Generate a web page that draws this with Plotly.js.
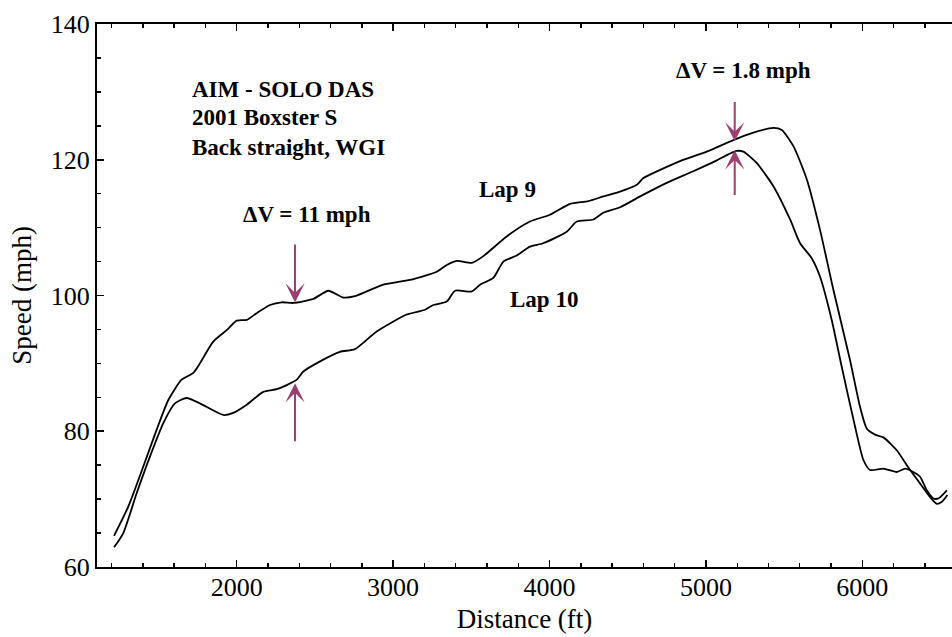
<!DOCTYPE html>
<html>
<head>
<meta charset="utf-8">
<script src="https://cdn.plot.ly/plotly-3.0.1.min.js"></script>
<style>html,body{margin:0;padding:0;background:#fff;}#chart{width:952px;height:637px;}</style>
</head>
<body>
<div id="chart"></div>
<script>
// Lap 9 (distance ft, speed mph)
const lap9Dist = [1216,1307,1403,1488,1563,1648,1723,1765,1850,1936,2000,2064,2128,2213,2288,2362,2490,2586,2682,2756,2937,3108,3279,3343,3407,3503,3577,3726,3875,4003,4131,4248,4344,4451,4558,4600,4707,4834,5005,5175,5303,5431,5485,5559,5645,5729,5815,5921,5985,6028,6081,6134,6220,6284,6369,6433,6476,6508,6544];
const lap9Speed = [64.6,68.9,74.8,80.2,84.6,87.6,88.6,90.0,93.2,94.9,96.3,96.4,97.4,98.6,99.0,98.9,99.5,100.7,99.7,99.9,101.6,102.3,103.5,104.5,105.1,104.8,105.8,108.7,110.9,111.9,113.5,113.9,114.6,115.3,116.3,117.3,118.5,119.8,121.2,122.9,124.0,124.7,124.4,122.0,117.1,109.7,100.8,90.5,83.6,80.4,79.5,79.1,77.2,75.0,72.3,70.3,69.3,69.6,70.6];
// Lap 10
const lap10Dist = [1216,1275,1361,1446,1531,1605,1680,1765,1914,1978,2064,2170,2256,2320,2384,2426,2533,2660,2756,2895,3087,3204,3257,3343,3396,3503,3556,3641,3705,3790,3875,3960,4110,4174,4280,4344,4451,4579,4749,4919,5069,5143,5197,5239,5325,5431,5538,5602,5676,5729,5804,5868,5953,6006,6049,6134,6220,6273,6326,6369,6412,6454,6486,6540];
const lap10Speed = [62.9,65.0,70.9,76.3,81.2,84.1,84.9,84.1,82.4,82.7,83.9,85.8,86.2,86.8,87.6,88.8,90.3,91.7,92.1,94.7,97.2,97.9,98.6,99.1,100.7,100.6,101.6,102.6,105.0,105.9,107.2,107.7,109.4,110.9,111.2,112.2,113.0,114.6,116.6,118.3,119.9,120.8,121.3,121.2,119.5,116.1,111.2,107.7,105.5,102.8,96.4,89.5,80.7,75.8,74.3,74.5,74.0,74.5,74.0,73.3,71.3,70.1,70.1,71.3];

const xTickVals = [2000,3000,4000,5000,6000];
const yTickVals = [60,80,100,120,140];
const infoLines = ["AIM - SOLO DAS","2001 Boxster S","Back straight, WGI"];

const serif = "'Liberation Serif', 'Times New Roman', serif";
const arrowColor = "#9b3f71";

const traces = [
  {x: lap9Dist, y: lap9Speed, mode: "lines", name: "Lap 9",
   line: {color: "#000", width: 1.8, shape: "spline", smoothing: 0.6}},
  {x: lap10Dist, y: lap10Speed, mode: "lines", name: "Lap 10",
   line: {color: "#000", width: 1.8, shape: "spline", smoothing: 0.6}}
];

const boldFont = {family: serif, size: 23, color: "#000"};
function arrow(xTip, yTip, yTail) {
  return {x: xTip, y: yTip, ax: xTip, ay: yTail, xref: "x", yref: "y", axref: "x", ayref: "y",
    text: "", showarrow: true, arrowhead: 3, arrowsize: 1.6, arrowwidth: 2, arrowcolor: arrowColor, standoff: 0};
}
const annotations = [
  {x: 1701, y: 130.3, xref: "x", yref: "y", text: "<b>" + infoLines[0] + "</b>", showarrow: false, xanchor: "left", yanchor: "middle", font: boldFont},
  {x: 1701, y: 126.2, xref: "x", yref: "y", text: "<b>" + infoLines[1] + "</b>", showarrow: false, xanchor: "left", yanchor: "middle", font: boldFont},
  {x: 1701, y: 121.8, xref: "x", yref: "y", text: "<b>" + infoLines[2] + "</b>", showarrow: false, xanchor: "left", yanchor: "middle", font: boldFont},
  {x: 2450, y: 112.0, xref: "x", yref: "y", text: "<b>ΔV = 11 mph</b>", showarrow: false, xanchor: "center", yanchor: "middle", font: boldFont},
  {x: 5240, y: 133.1, xref: "x", yref: "y", text: "<b>ΔV = 1.8 mph</b>", showarrow: false, xanchor: "center", yanchor: "middle", font: boldFont},
  {x: 3731, y: 115.6, xref: "x", yref: "y", text: "<b>Lap 9</b>", showarrow: false, xanchor: "center", yanchor: "middle", font: boldFont},
  {x: 3965, y: 99.4, xref: "x", yref: "y", text: "<b>Lap 10</b>", showarrow: false, xanchor: "center", yanchor: "middle", font: boldFont},
  arrow(2373, 98.97, 107.73),
  arrow(2373, 87.08, 78.32),
  arrow(5184, 122.71, 128.72),
  arrow(5184, 121.39, 114.6)
];

const layout = {
  width: 952, height: 637,
  margin: {l: 97, r: 0, t: 24, b: 70, pad: 0},
  paper_bgcolor: "#fff", plot_bgcolor: "#fff",
  showlegend: false,
  font: {family: serif, color: "#000", size: 26},
  xaxis: {
    range: [1107, 6573], showgrid: false, zeroline: false,
    showline: true, linecolor: "#000", linewidth: 2, mirror: "ticks",
    ticks: "inside", ticklen: 7, tickwidth: 1.6, tickcolor: "#000",
    tickvals: xTickVals, ticktext: xTickVals.map(String),
    tickfont: {family: serif, size: 26, color: "#000"},
    ticklabelstandoff: -4,
    minor: {dtick: 200, tick0: 0, ticks: "inside", ticklen: 4, tickwidth: 1.4, tickcolor: "#000", showgrid: false},
    title: {text: "Distance (ft)", font: {family: serif, size: 27, color: "#000"}, standoff: 8},
    automargin: false
  },
  yaxis: {
    range: [60, 140], showgrid: false, zeroline: false,
    showline: true, linecolor: "#000", linewidth: 2, mirror: false,
    ticks: "inside", ticklen: 7, tickwidth: 1.6, tickcolor: "#000",
    tickvals: yTickVals, ticktext: yTickVals.map(String),
    tickfont: {family: serif, size: 26, color: "#000"},
    minor: {dtick: 5, tick0: 0, ticks: "inside", ticklen: 4, tickwidth: 1.4, tickcolor: "#000", showgrid: false},
    title: {text: "Speed (mph)", font: {family: serif, size: 27, color: "#000"}, standoff: 11},
    automargin: false
  },
  annotations: annotations
};

Plotly.newPlot("chart", traces, layout, {displayModeBar: false, staticPlot: true});
</script>
</body>
</html>
